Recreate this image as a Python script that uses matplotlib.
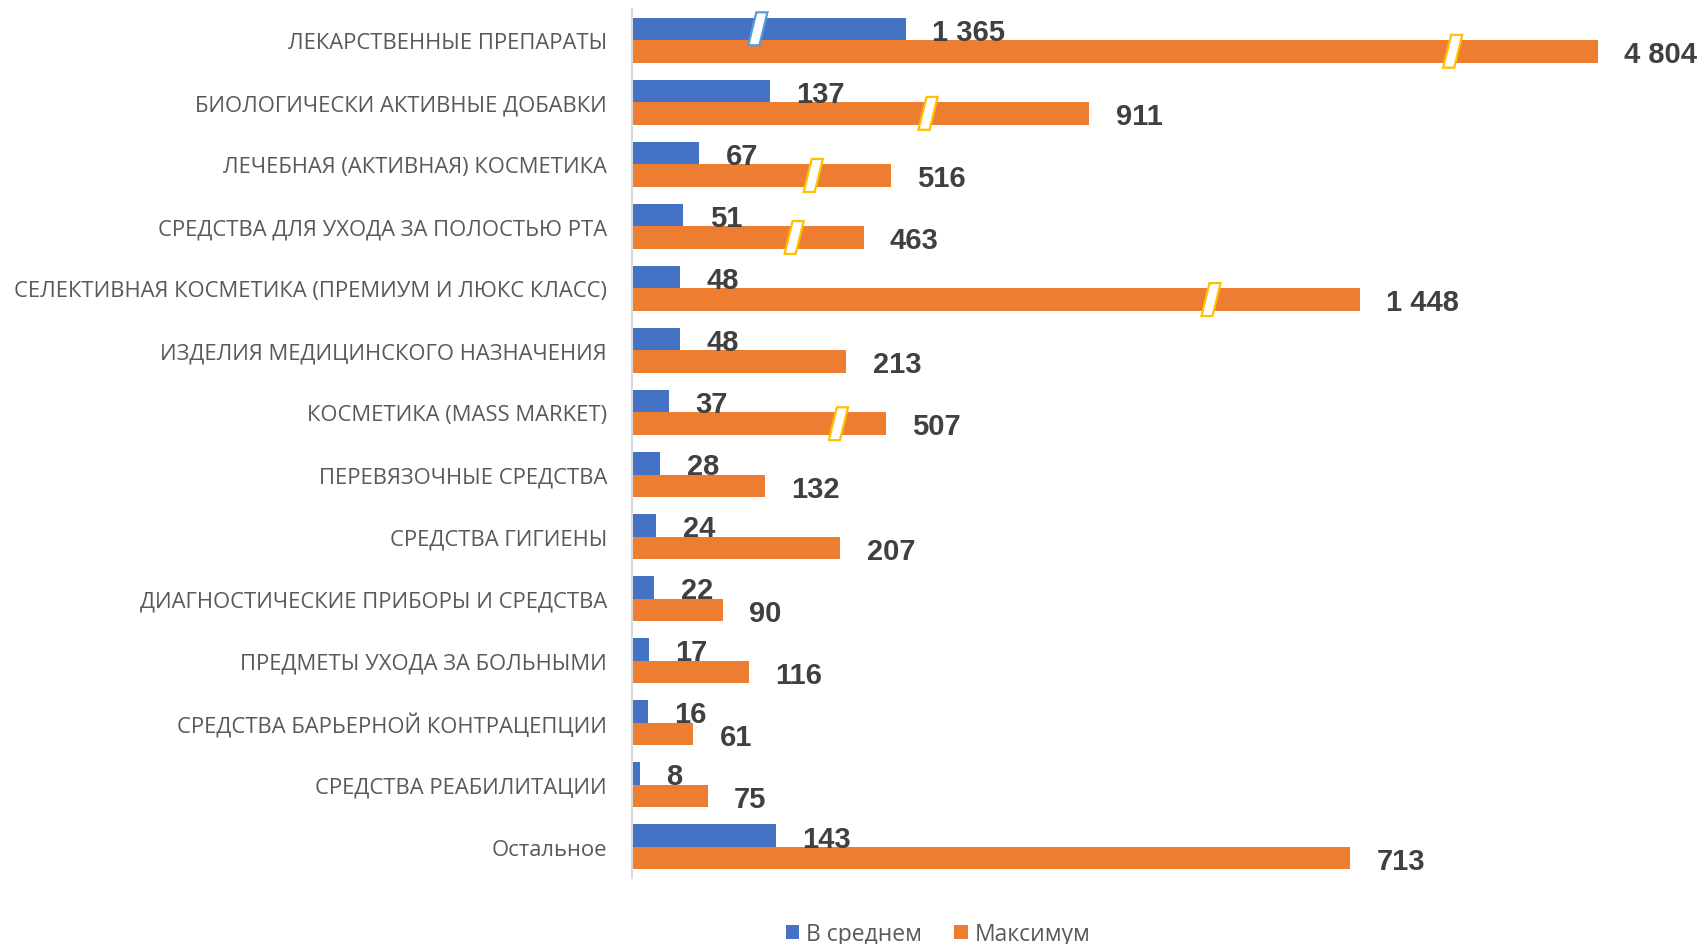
import matplotlib.pyplot as plt
from matplotlib.patches import Polygon
import numpy as np

categories = [
    "ЛЕКАРСТВЕННЫЕ ПРЕПАРАТЫ",
    "БИОЛОГИЧЕСКИ АКТИВНЫЕ ДОБАВКИ",
    "ЛЕЧЕБНАЯ (АКТИВНАЯ) КОСМЕТИКА",
    "СРЕДСТВА ДЛЯ УХОДА ЗА ПОЛОСТЬЮ РТА",
    "СЕЛЕКТИВНАЯ КОСМЕТИКА (ПРЕМИУМ И ЛЮКС КЛАСС)",
    "ИЗДЕЛИЯ МЕДИЦИНСКОГО НАЗНАЧЕНИЯ",
    "КОСМЕТИКА (MASS MARKET)",
    "ПЕРЕВЯЗОЧНЫЕ СРЕДСТВА",
    "СРЕДСТВА ГИГИЕНЫ",
    "ДИАГНОСТИЧЕСКИЕ ПРИБОРЫ И СРЕДСТВА",
    "ПРЕДМЕТЫ УХОДА ЗА БОЛЬНЫМИ",
    "СРЕДСТВА БАРЬЕРНОЙ КОНТРАЦЕПЦИИ",
    "СРЕДСТВА РЕАБИЛИТАЦИИ",
    "Остальное",
]
avg_values = [1365, 137, 67, 51, 48, 48, 37, 28, 24, 22, 17, 16, 8, 143]
max_values = [4804, 911, 516, 463, 1448, 213, 507, 132, 207, 90, 116, 61, 75, 713]

# bars shortened by an axis break: row -> (drawn length, break position)
avg_breaks = {0: (272, 125)}
max_breaks = {0: (959, 815), 1: (454, 294), 2: (257, 180), 3: (230, 161),
              4: (723, 575), 6: (252, 205)}

BLUE = "#4472C4"
ORANGE = "#ED7D31"
TEXT = "#595959"
LABEL = "#404040"
CAT_FONT = ["Open Sans", "DejaVu Sans"]
NUM_FONT = ["Liberation Sans", "DejaVu Sans"]


def fmt(v):
    return f"{v:,}".replace(",", " ")


def break_mark(ax, x, y, edge):
    h, w, s = 0.265, 11, 4
    pts = [(x + s - w / 2, y - h), (x + s + w / 2, y - h),
           (x - s + w / 2, y + h), (x - s - w / 2, y + h)]
    ax.add_patch(Polygon(pts, closed=True, facecolor="white", edgecolor=edge,
                         linewidth=1.6, zorder=4))


fig = plt.figure(figsize=(17.06, 9.45), dpi=100)
ax = fig.add_axes([632 / 1706, 1 - 879 / 945, (1690 - 632) / 1706, (879 - 10) / 945])

n = len(categories)
y = np.arange(n)
bh = 0.362

avg_drawn = [avg_breaks.get(i, (v, None))[0] for i, v in enumerate(avg_values)]
max_drawn = [max_breaks.get(i, (v, None))[0] for i, v in enumerate(max_values)]

b1 = ax.barh(y - bh / 2, avg_drawn, height=bh, color=BLUE, label="В среднем", zorder=2)
b2 = ax.barh(y + bh / 2, max_drawn, height=bh, color=ORANGE, label="Максимум", zorder=2)

for i, (_, pos) in avg_breaks.items():
    break_mark(ax, pos, i - bh / 2, "#5B9BD5")
for i, (_, pos) in max_breaks.items():
    break_mark(ax, pos, i + bh / 2, "#FFC000")

for yy, drawn, val in [(y - bh / 2, avg_drawn, avg_values), (y + bh / 2, max_drawn, max_values)]:
    for yi, d, v in zip(yy, drawn, val):
        ax.annotate(fmt(v), (d, yi), xytext=(19, -2), textcoords="offset points",
                    ha="left", va="center", fontsize=21, fontweight="bold",
                    color=LABEL, family=NUM_FONT, zorder=5)

ax.set_xlim(0, (1690 - 632) / 1.007)
ax.set_ylim(n - 0.5, -0.5)
ax.set_yticks(y)
ax.set_yticklabels(categories, fontsize=15.8, color=TEXT, family=CAT_FONT)
ax.tick_params(axis="y", length=0, pad=18)
ax.set_xticks([])
for side in ["top", "right", "bottom"]:
    ax.spines[side].set_visible(False)
ax.spines["left"].set_color("#D9D9D9")
ax.spines["left"].set_linewidth(1.5)

fig.legend(handles=[b1, b2], loc="center", bbox_to_anchor=(938 / 1706, 1 - 935 / 945),
           ncol=2, frameon=False, handlelength=0.6, handleheight=0.6,
           handletextpad=0.3, columnspacing=1.4,
           prop={"family": CAT_FONT, "size": 16.5}, labelcolor=TEXT)

fig.savefig("out.png", dpi=100)
